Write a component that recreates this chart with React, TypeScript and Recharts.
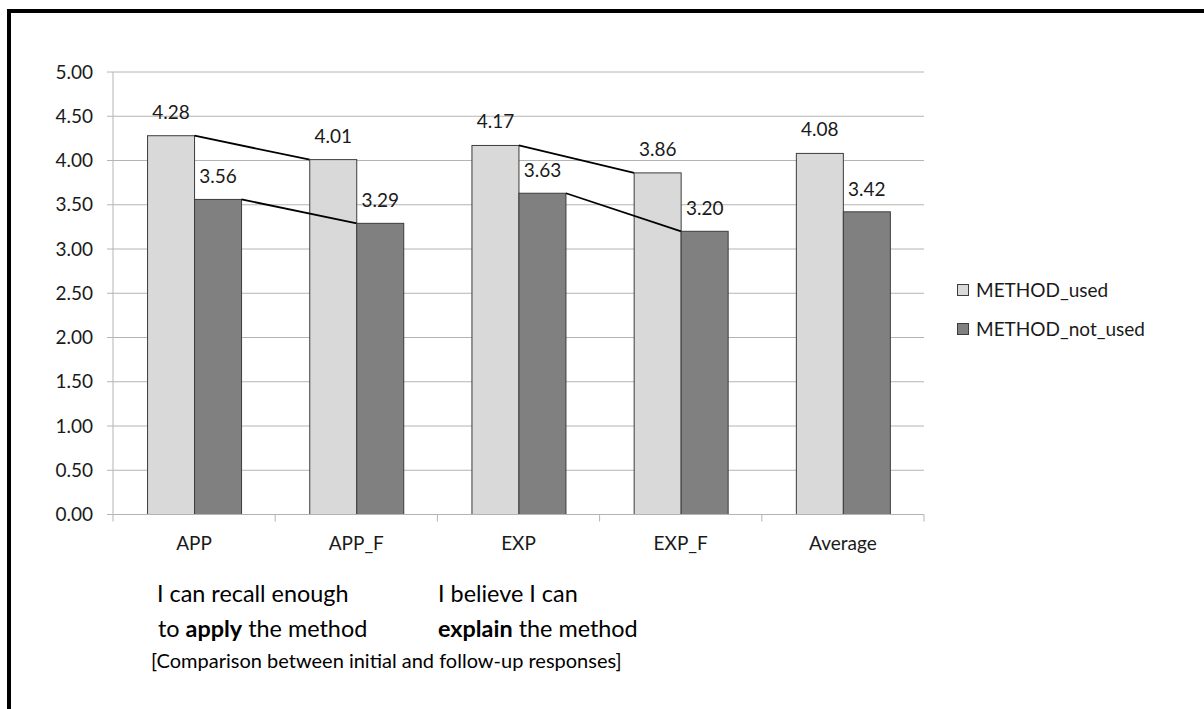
import React from 'react';
import { BarChart, Bar, XAxis, YAxis, CartesianGrid, LabelList, Legend } from 'recharts';

const categories = ['APP', 'APP_F', 'EXP', 'EXP_F', 'Average'];
const methodUsed = [4.28, 4.01, 4.17, 3.86, 4.08];
const methodNotUsed = [3.56, 3.29, 3.63, 3.2, 3.42];
const yTicks = [0, 0.5, 1, 1.5, 2, 2.5, 3, 3.5, 4, 4.5, 5];
const connectedPairs = [[0, 1], [2, 3]];
const seriesNames = { used: 'METHOD_used', notUsed: 'METHOD_not_used' };

const data = categories.map((name, i) => ({ name, used: methodUsed[i], notUsed: methodNotUsed[i] }));

const CHART_W = 1204;
const CHART_H = 709;
const X_AXIS_H = 30;
const MARGIN = { top: 72, right: 280, left: 0, bottom: 164.5 };
const Y_AXIS_W = 113;
const PLOT_W = CHART_W - MARGIN.left - MARGIN.right - Y_AXIS_W;
const BAND = PLOT_W / categories.length;
const X_TICK_SIZE = 6;
const X_TICK_MARGIN = 16;

const FONT = 'Lato, "Open Sans", sans-serif';
const USED_FILL = '#d9d9d9';
const NOT_USED_FILL = '#808080';
const BAR_STROKE = '#3c3c3c';
const GRID = '#b4b4b4';
const TEXT = '#1a1a1a';

const makeShape = (key: 'used' | 'notUsed') => (props: any) => {
  const { x, y, width, height, fill, payload } = props;
  const idx = categories.indexOf(payload?.name);
  const val = data[idx]?.[key] ?? 0;
  const pair = connectedPairs.find((p) => p[0] === idx);
  let connector = null;
  if (pair && val > 0) {
    const pxPerUnit = height / val;
    const base = y + height;
    const nextVal = data[pair[1]][key];
    const nx = x + BAND * (pair[1] - pair[0]);
    const ny = base - nextVal * pxPerUnit;
    connector = <line x1={x + width} y1={y} x2={nx} y2={ny} stroke="#000" strokeWidth={1.8} />;
  }
  return (
    <g>
      <rect x={x} y={y} width={width} height={height} fill={fill} stroke={BAR_STROKE} strokeWidth={1} />
      {connector}
    </g>
  );
};

const CategoryTick = (props: any) => {
  const { x, y, payload, index } = props;
  const axisY = y - X_TICK_SIZE - X_TICK_MARGIN;
  const i = typeof index === 'number' ? index : categories.indexOf(payload?.value);
  return (
    <g>
      {i === 0 && (
        <line x1={x - BAND / 2} x2={x - BAND / 2} y1={axisY} y2={axisY + 7} stroke={GRID} strokeWidth={1} />
      )}
      <line x1={x + BAND / 2} x2={x + BAND / 2} y1={axisY} y2={axisY + 7} stroke={GRID} strokeWidth={1} />
      <text x={x} y={y} dy="0.71em" textAnchor="middle" fill={TEXT} fontSize={19} fontFamily={FONT}>
        {payload?.value}
      </text>
    </g>
  );
};

const LegendBox = () => (
  <div style={{ fontFamily: FONT, fontSize: 19, color: TEXT }}>
    {[
      { label: seriesNames.used, color: USED_FILL },
      { label: seriesNames.notUsed, color: NOT_USED_FILL },
    ].map((it) => (
      <div key={it.label} style={{ display: 'flex', alignItems: 'center', height: 39 }}>
        <div style={{ width: 10, height: 10, border: `1px solid ${BAR_STROKE}`, background: it.color, marginRight: 7 }} />
        <span>{it.label}</span>
      </div>
    ))}
  </div>
);

export default function App() {
  return (
    <div style={{ position: 'fixed', left: 0, top: 0, width: CHART_W, height: CHART_H, overflow: 'hidden', background: '#fff' }}>
      <div
        style={{
          position: 'absolute',
          left: 7,
          top: 9,
          width: 1400,
          height: 900,
          borderTop: '4px solid #000',
          borderLeft: '4px solid #000',
        }}
      />
      <div style={{ position: 'absolute', left: 0, top: 0 }}>
        <BarChart
          width={CHART_W}
          height={CHART_H}
          data={data}
          margin={MARGIN}
          barCategoryGap="21.3%"
          barGap={0}
        >
          <CartesianGrid vertical={false} stroke={GRID} strokeWidth={1} />
          <XAxis
            dataKey="name"
            height={X_AXIS_H}
            axisLine={{ stroke: GRID }}
            tickLine={false}
            tickSize={X_TICK_SIZE}
            tickMargin={X_TICK_MARGIN}
            interval={0}
            tick={<CategoryTick />}
          />
          <YAxis
            width={Y_AXIS_W}
            domain={[0, 5]}
            ticks={yTicks}
            interval={0}
            tickSize={6}
            tickMargin={14}
            axisLine={{ stroke: GRID }}
            tickLine={{ stroke: GRID }}
            tickFormatter={(v: number) => v.toFixed(2)}
            tick={{ fill: TEXT, fontSize: 19, fontFamily: FONT }}
          />
          <Legend
            layout="horizontal"
            verticalAlign="middle"
            align="center"
            wrapperStyle={{ left: 957, top: 270, right: 'auto', bottom: 'auto', width: 240 }}
            content={() => <LegendBox />}
          />
          <Bar
            dataKey="used"
            name={seriesNames.used}
            fill={USED_FILL}
            isAnimationActive={false}
            shape={makeShape('used')}
          >
            <LabelList
              dataKey="used"
              position="top"
              offset={17}
              formatter={(v: any) => Number(v).toFixed(2)}
              style={{ fill: TEXT, fontSize: 19, fontFamily: FONT }}
            />
          </Bar>
          <Bar
            dataKey="notUsed"
            name={seriesNames.notUsed}
            fill={NOT_USED_FILL}
            isAnimationActive={false}
            shape={makeShape('notUsed')}
          >
            <LabelList
              dataKey="notUsed"
              position="top"
              offset={16}
              formatter={(v: any) => Number(v).toFixed(2)}
              style={{ fill: TEXT, fontSize: 19, fontFamily: FONT }}
            />
          </Bar>
        </BarChart>
      </div>
      <svg
        width={CHART_W}
        height={CHART_H}
        style={{ position: 'absolute', left: 0, top: 0, pointerEvents: 'none' }}
        fontFamily={FONT}
        fill="#000"
      >
        <text x={157} y={602} fontSize={23.4}>I can recall enough</text>
        <text x={158} y={637} fontSize={23.4}>
          to <tspan fontWeight="bold">apply</tspan> the method
        </text>
        <text x={438} y={602} fontSize={23.4}>I believe I can</text>
        <text x={438} y={637} fontSize={23.4}>
          <tspan fontWeight="bold">explain</tspan> the method
        </text>
        <text x={151} y={668} fontSize={20}>[Comparison between initial and follow-up responses]</text>
      </svg>
    </div>
  );
}
